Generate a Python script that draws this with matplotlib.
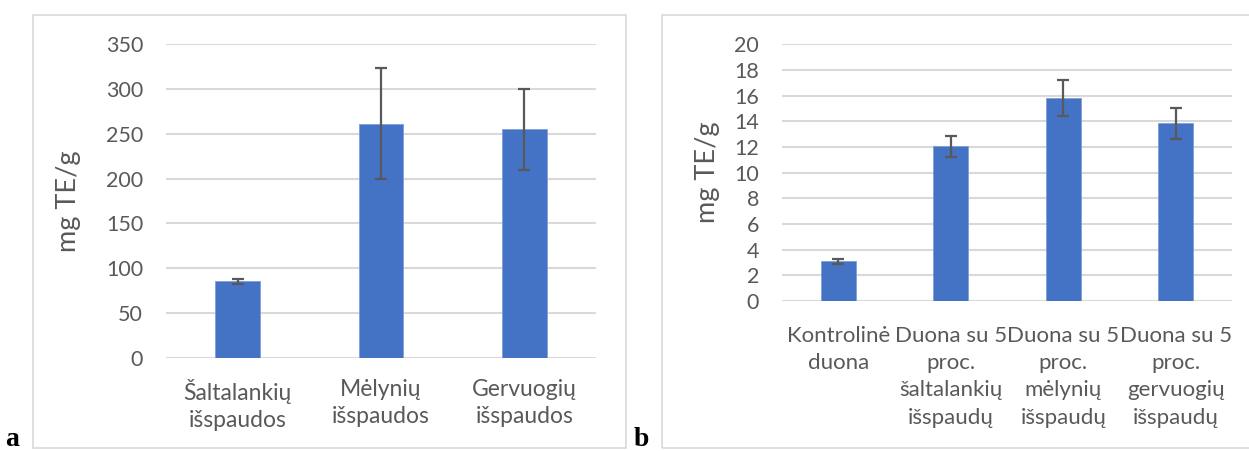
import matplotlib
matplotlib.use("Agg")
import matplotlib.pyplot as plt
from matplotlib.patches import Rectangle

# Panel a: pomace extracts
cats_a = ["Šaltalankių\nišspaudos", "Mėlynių\nišspaudos", "Gervuogių\nišspaudos"]
vals_a = [85.3, 261.5, 255.0]
errs_a = [3.0, 61.5, 45.0]
yticks_a = [0, 50, 100, 150, 200, 250, 300, 350]

# Panel b: bread samples
cats_b = ["Kontrolinė\nduona",
          "Duona su 5\nproc.\nšaltalankių\nišspaudų",
          "Duona su 5\nproc.\nmėlynių\nišspaudų",
          "Duona su 5\nproc.\ngervuogių\nišspaudų"]
vals_b = [3.1, 12.05, 15.83, 13.85]
errs_b = [0.2, 0.8, 1.4, 1.2]
yticks_b = list(range(0, 21, 2))

BAR = "#4472c4"
GRID = "#d9d9d9"
TXT = "#595959"
FONT = ["Lato", "DejaVu Sans"]
plt.rcParams["font.family"] = FONT

W, H = 1249, 451
fig = plt.figure(figsize=(W / 100, H / 100), dpi=100)


def fbox(x0, y0, x1, y1):
    """Pixel box (top-left origin) to figure fraction [l, b, w, h]."""
    return [x0 / W, 1 - y1 / H, (x1 - x0) / W, (y1 - y0) / H]


def panel(rect, cats, vals, errs, yticks, ymax, xfs, xls, xpad, ylpad):
    ax = fig.add_axes(rect)
    x = list(range(len(cats)))
    ax.bar(x, vals, width=0.31, color=BAR, edgecolor="#7f9fd8", linewidth=0.6, zorder=3)
    ax.errorbar(x, vals, yerr=errs, fmt="none", ecolor=TXT, elinewidth=1.6,
                capsize=4.5, capthick=1.6, zorder=4)
    ax.set_xlim(-0.5, len(cats) - 0.5)
    ax.set_ylim(0, ymax)
    ax.set_yticks(yticks)
    ax.set_yticklabels([str(t) for t in yticks])
    ax.set_xticks(x)
    ax.set_xticklabels(cats, linespacing=xls, fontsize=xfs)
    ax.grid(axis="y", color=GRID, linewidth=1.5, zorder=0)
    ax.set_axisbelow(True)
    for s in ax.spines.values():
        s.set_visible(False)
    ax.tick_params(axis="y", length=0, labelsize=15.5, labelcolor=TXT, pad=16.5)
    ax.tick_params(axis="x", length=0, labelcolor=TXT, pad=xpad)
    ax.set_ylabel("mg TE/g", fontsize=19.5, color=TXT, labelpad=ylpad)
    return ax


# Panel frames
fig.patches.append(Rectangle((32.5 / W, 1 - 448 / H), (626 - 32.5) / W, (448 - 15.3) / H,
                             transform=fig.transFigure, fill=False,
                             edgecolor="#d9d9d9", linewidth=1.2))
fig.patches.append(Rectangle((661.5 / W, 1 - 448 / H), (1260 - 661.5) / W, (448 - 15.3) / H,
                             transform=fig.transFigure, fill=False,
                             edgecolor="#d9d9d9", linewidth=1.2))

ax_a = panel(fbox(166, 44.3, 596, 357.7), cats_a, vals_a, errs_a, yticks_a, 350,
             16.5, 1.38, 15, 17.5)
ax_b = panel(fbox(782, 44.3, 1232, 301), cats_b, vals_b, errs_b, yticks_b, 20,
             16, 1.45, 18, 10)

fig.text(5 / W, 1 - 446 / H, "a", fontsize=20, fontweight="bold",
         family="Liberation Serif", va="baseline", ha="left")
fig.text(634 / W, 1 - 446 / H, "b", fontsize=20, fontweight="bold",
         family="Liberation Serif", va="baseline", ha="left")

fig.savefig("out.png", dpi=100)
